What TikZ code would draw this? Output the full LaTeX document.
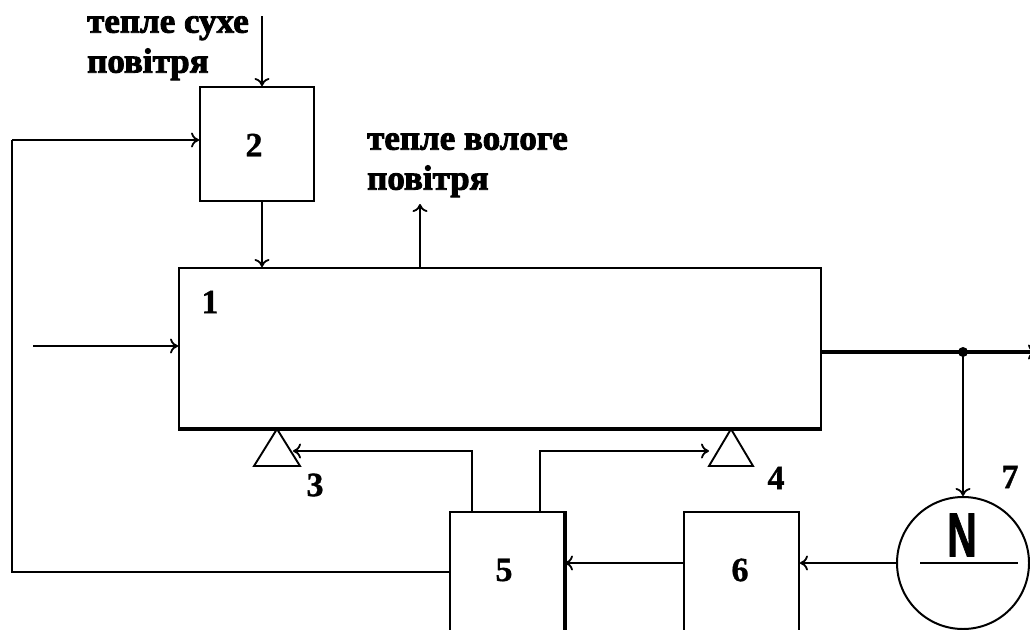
\documentclass[tikz,border=0pt]{standalone}
\usepackage{fontspec}
\setmainfont{Liberation Serif}
\newfontfamily\sansN[FakeBold=1.5]{Liberation Sans Bold}
\newfontfamily\heavyser[FakeBold=2.5]{Liberation Serif Bold}
\newfontfamily\numser[FakeBold=1]{Liberation Serif Bold}
\usetikzlibrary{arrows.meta}
\begin{document}
\begin{tikzpicture}[x=1pt,y=-1pt,
  thinln/.style={line width=1.9pt},
  thickln/.style={line width=3.6pt},
  arr/.style={-{To[length=8pt,width=15pt,line width=1.8pt]}},
  box/.style={draw,line width=1.9pt,inner sep=0pt},
  num/.style={font=\fontsize{34}{36}\selectfont\numser,inner sep=0pt},
  lbl/.style={font=\fontsize{35}{40}\selectfont\heavyser,inner sep=0pt,align=left,anchor=north west}]
\useasboundingbox (0,0) rectangle (1030,629);
\clip (0,0) rectangle (1030,629);
% boxes
\node[box,minimum width=114pt,minimum height=114pt] (b2) at (257,144) {};
\node[box,minimum width=642pt,minimum height=160pt] (b1) at (500,348) {};
\node[box,minimum width=114pt,minimum height=130pt] (b5) at (507,577) {};
\node[box,minimum width=115pt,minimum height=130pt] (b6) at (741.5,577) {};
\node[draw,circle,line width=2pt,minimum size=132pt,inner sep=0pt] (c7) at (963,563) {};
% thick edges
\draw[thickln] (b1.south west) -- (b1.south east);
\draw[thickln] (b5.north east) -- (b5.south east);
% labels
\node[num] (l2) at (254,145) {2};
\node[num] (l1) at (210,302) {1};
\node[num] (l3) at (315,485) {3};
\node[num] (l4) at (776,478) {4};
\node[num] (l5) at (504,570) {5};
\node[num] (l6) at (740,570) {6};
\node[num] (l7) at (1010,477) {7};
\node[inner sep=0pt,font=\fontsize{62}{64}\selectfont\sansN,xscale=0.66] (nN) at (962,535) {N};
\draw[thinln] ([xshift=-43pt]c7.center) -- ([xshift=55pt]c7.center);
\node[lbl] (tdry) at (87,16) {тепле сухе\\повітря};
\node[lbl] (twet) at (367,133) {тепле вологе\\повітря};
% triangles
\coordinate (t3) at (277,429);
\coordinate (t4) at (731,429);
\draw[thinln] (t3) -- ++(-23,37) -- ++(46,0) -- cycle;
\draw[thinln] (t4) -- ++(-22,37) -- ++(44,0) -- cycle;
% connectors
\coordinate (in2) at (262,16);
\draw[line width=2.8pt,arr] (in2) -- (in2 |- b2.north);
\draw[line width=2.8pt,arr] (in2 |- b2.south) -- (in2 |- b1.north);
\coordinate (fbc) at (12,572);
\coordinate (fbt) at (12,140);
\draw[line width=2.3pt] (b5.west |- fbc) -- (fbc) -- (fbt);
\draw[line width=2.8pt,arr] (fbt) -- (fbt -| b2.west);
\coordinate (inL) at (33,346);
\draw[thinln,arr] (inL) -- (inL -| b1.west);
\coordinate (wet) at (420,204);
\draw[thinln,arr] (wet |- b1.north) -- (wet);
\coordinate (dot) at (963,352);
\coordinate (outR) at (1036,352);
\draw[thickln] (b1.east |- dot) -- (dot);
\draw[thickln,arr] (dot) -- (outR);
\fill (dot) circle (5pt);
\draw[thinln,arr] (dot) -- (c7.north);
\draw[thinln,arr] (c7.west) -- (c7.west -| b6.east);
\draw[thinln,arr] (b6.west |- c7) -- (b5.east |- c7);
\coordinate (a3) at (472,451);
\coordinate (a4) at (540,451);
\draw[thinln,arr] (a3 |- b5.north) -- (a3) -- (293,451);
\draw[thinln,arr] (a4 |- b5.north) -- (a4) -- (709,451);
\end{tikzpicture}
\end{document}
